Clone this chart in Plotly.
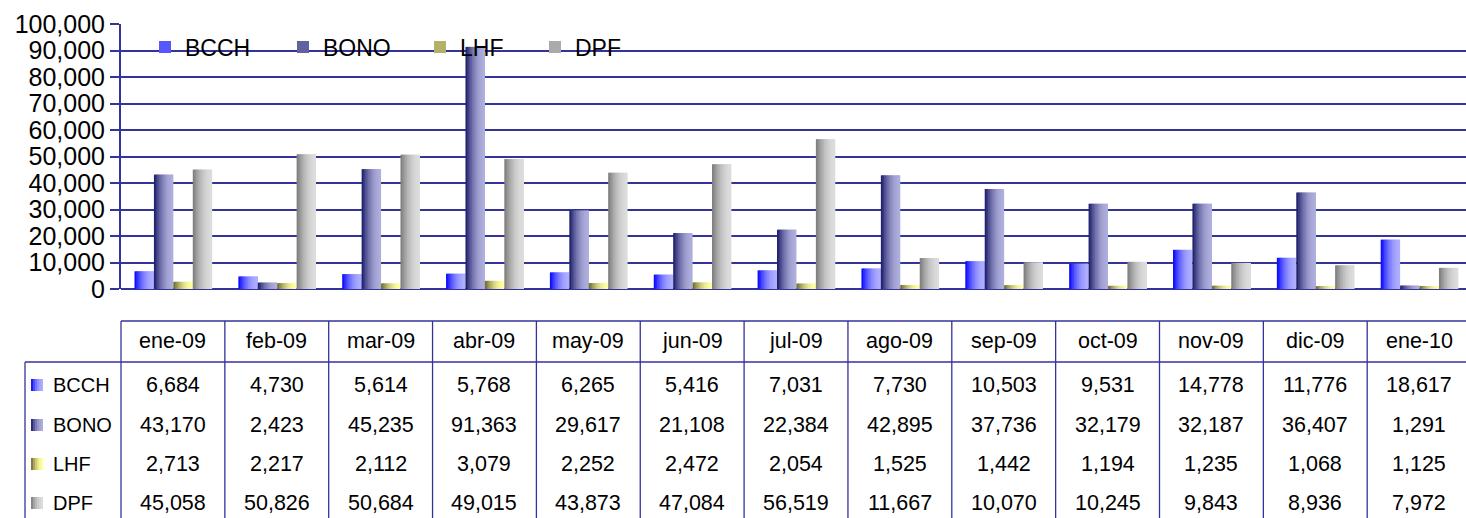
import plotly.graph_objects as go

# ---------------- data ----------------
months = ["ene-09", "feb-09", "mar-09", "abr-09", "may-09", "jun-09", "jul-09",
          "ago-09", "sep-09", "oct-09", "nov-09", "dic-09", "ene-10"]
bcch = [6684, 4730, 5614, 5768, 6265, 5416, 7031, 7730, 10503, 9531, 14778, 11776, 18617]
bono = [43170, 2423, 45235, 91363, 29617, 21108, 22384, 42895, 37736, 32179, 32187, 36407, 1291]
lhf = [2713, 2217, 2112, 3079, 2252, 2472, 2054, 1525, 1442, 1194, 1235, 1068, 1125]
dpf = [45058, 50826, 50684, 49015, 43873, 47084, 56519, 11667, 10070, 10245, 9843, 8936, 7972]
series_names = ["BCCH", "BONO", "LHF", "DPF"]
y_ticks = [0, 10000, 20000, 30000, 40000, 50000, 60000, 70000, 80000, 90000, 100000]

series_values = [bcch, bono, lhf, dpf]

# ---------------- styles ----------------
gradients = [
    ((0, 0, 255), (174, 174, 255)),
    ((22, 22, 100), (174, 174, 220)),
    ((100, 100, 46), (255, 255, 160)),
    ((120, 120, 120), (220, 220, 220)),
]
NAVY = "#333399"
FONT = "Liberation Sans, Arial, sans-serif"

W, H = 1466, 518
L, T, B = 121, 24, 289          # plot left, top, bottom (pixels)
COL_W = 103.85                  # pixels per category
x_range = [-0.5, -0.5 + (W - L) / COL_W]

BAR_W = 0.187
offsets = [-0.37, -0.183, 0.004, 0.191]
N = 12


def lerp(c0, c1, t):
    return "rgb(%d,%d,%d)" % tuple(round(a + (b - a) * t) for a, b in zip(c0, c1))


def ease(t):
    return 1 - (1 - t) ** 2


def xp(X):
    return (X - L) / (W - L)


def yp(Y):
    return (B - Y) / (B - T)


fig = go.Figure()
legend_ids = ["legend", "legend2", "legend3", "legend4"]
for si, (name, vals) in enumerate(zip(series_names, series_values)):
    c0, c1 = gradients[si]
    for k in range(N):
        t = (k + 0.5) / N
        fig.add_trace(go.Bar(
            x=months, y=vals,
            offset=offsets[si] + k * BAR_W / N,
            width=BAR_W / N * (1.6 if k < N - 1 else 1.0),
            marker=dict(color=lerp(c0, c1, ease(t)), line=dict(width=0)),
            name=name,
            legend=legend_ids[si],
            legendgroup=name,
            showlegend=(k == 3),
            hovertemplate=name + " %{x}: %{y:,}<extra></extra>",
        ))

shapes = []
annotations = []

# white box behind legend (covers the 90,000 gridline)
shapes.append(dict(type="rect", xref="paper", yref="paper", layer="between",
                   x0=xp(137), x1=xp(641), y0=yp(60), y1=yp(36),
                   fillcolor="white", line=dict(width=0)))

# ---------------- data table ----------------
LINE = dict(color=NAVY, width=1.3)
TOP_Y, HDR_Y, BOT_Y = 321, 362, 530
shapes.append(dict(type="line", xref="paper", yref="paper", x0=0, x1=1.01,
                   y0=yp(TOP_Y), y1=yp(TOP_Y), line=LINE))
shapes.append(dict(type="line", xref="paper", yref="paper", x0=xp(25), x1=1.01,
                   y0=yp(HDR_Y), y1=yp(HDR_Y), line=LINE))
shapes.append(dict(type="line", xref="paper", yref="paper", x0=xp(25), x1=xp(25),
                   y0=yp(HDR_Y), y1=yp(BOT_Y), line=LINE))
for k in range(len(months)):
    xb = xp(L + k * COL_W)
    shapes.append(dict(type="line", xref="paper", yref="paper", x0=xb, x1=xb,
                       y0=yp(TOP_Y), y1=yp(BOT_Y), line=LINE))

row_y = [385, 425, 464, 503]
for i, m in enumerate(months):
    annotations.append(dict(x=m, xref="x", y=yp(341), yref="paper", text=m,
                            showarrow=False, xanchor="center", yanchor="middle",
                            font=dict(size=21.5, color="black", family=FONT)))
    for si, vals in enumerate(series_values):
        annotations.append(dict(x=m, xref="x", y=yp(row_y[si]), yref="paper",
                                text=f"{vals[i]:,}", showarrow=False,
                                xanchor="center", yanchor="middle",
                                font=dict(size=21.5, color="black", family=FONT)))

for si, name in enumerate(series_names):
    c0, c1 = gradients[si]
    ycen = row_y[si]
    ns = 6
    for k in range(ns):
        x0 = 31 + k * 12 / ns
        shapes.append(dict(type="rect", xref="paper", yref="paper",
                           x0=xp(x0), x1=xp(x0 + 12 / ns + (0.5 if k < ns - 1 else 0)),
                           y0=yp(ycen + 6), y1=yp(ycen - 6),
                           fillcolor=lerp(c0, c1, ease((k + 0.5) / ns)),
                           line=dict(width=0)))
    annotations.append(dict(x=xp(51), xref="paper", y=yp(ycen), yref="paper",
                            text=name, showarrow=False, xanchor="left", yanchor="middle",
                            font=dict(size=20, color="black", family=FONT)))

legend_lefts = [145, 283, 420, 535]
legend_layouts = {}
for lid, lx in zip(legend_ids, legend_lefts):
    legend_layouts[lid] = dict(
        x=xp(lx), xanchor="left", y=yp(47), yanchor="middle",
        orientation="h", bgcolor="rgba(0,0,0,0)", borderwidth=0,
        font=dict(size=23, color="black", family=FONT),
    )

fig.update_layout(
    width=W, height=H,
    margin=dict(l=L, r=0, t=T, b=H - B, pad=0),
    paper_bgcolor="white", plot_bgcolor="white",
    barmode="overlay",
    font=dict(family=FONT, color="black"),
    xaxis=dict(type="category", range=x_range, showticklabels=False,
               showgrid=False, zeroline=False, showline=False, ticks=""),
    yaxis=dict(range=[0, 100000], tickvals=y_ticks, tickformat=",",
               showgrid=True, gridcolor=NAVY, gridwidth=2,
               zeroline=True, zerolinecolor=NAVY, zerolinewidth=2,
               showline=True, linecolor=NAVY, linewidth=2,
               ticks="outside", ticklen=9, tickwidth=2, tickcolor=NAVY,
               ticklabelstandoff=0,
               tickfont=dict(size=25, color="black", family=FONT)),
    shapes=shapes,
    annotations=annotations,
    **legend_layouts,
)

fig.write_html("out.html", config={"displayModeBar": False},
               post_script="document.body.style.margin='0';document.body.style.overflow='hidden';")
